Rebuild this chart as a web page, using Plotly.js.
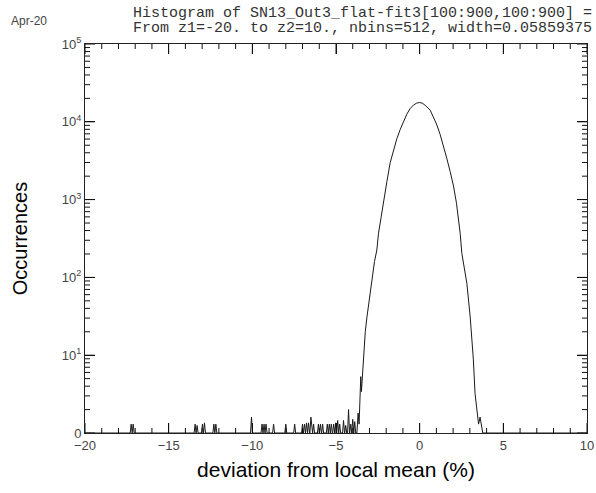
<!DOCTYPE html>
<html>
<head>
<meta charset="utf-8">
<script src="https://cdn.plot.ly/plotly-3.0.1.min.js"></script>
<style>html,body{margin:0;padding:0;background:#fff;}#chart{width:596px;height:493px;}</style>
</head>
<body>
<div id="chart"></div>
<script>
// Histogram of SN13_Out3_flat-fit3, 512 bins from -20 to 10
const binWidth = 0.05859375;
const emptyLevel = 1; // bottom of the log axis, labelled "0"

// main body of the distribution (deviation %, occurrences as drawn)
const coreX = [-3.75, -3.68, -3.62, -3.58, -3.52, -3.48, -3.42, -3.35, -3.25, -3.15, -3.0, -2.85, -2.7, -2.56, -2.46, -2.3, -2.16, -1.96, -1.76, -1.56, -1.36, -1.16, -0.97, -0.77, -0.57, -0.37, -0.2, -0.02, 0.15, 0.35, 0.63, 0.82, 1.03, 1.22, 1.42, 1.62, 1.82, 2.02, 2.2, 2.42, 2.52, 2.62, 2.82, 3.02, 3.21, 3.31, 3.4, 3.45, 3.52, 3.61, 3.7, 3.77];
const coreY = [1, 1.8, 1.3, 2.2, 5.3, 3.4, 6, 11.7, 20, 31, 56, 100, 160, 225, 370, 600, 950, 1700, 3000, 4400, 6100, 8000, 10000, 12500, 14800, 16400, 17300, 17700, 17400, 16200, 14100, 11700, 9100, 6900, 5000, 3400, 2300, 1500, 900, 370, 204, 150, 84, 31, 8.7, 3.2, 2.2, 1.8, 1.3, 1.6, 1.2, 1];

// isolated outlier bins in the left tail
const noiseX = [-17.24, -17.12, -13.42, -13.3, -12.98, -12.86, -12.3, -12.18, -10.05, -9.42, -9.3, -9.18, -8.73, -8.0, -7.47, -7.0, -6.88, -6.76, -6.64, -6.5, -6.34, -6.05, -5.93, -5.8, -5.52, -5.4, -5.28, -5.14, -5.02, -4.9, -4.78, -4.55, -4.42, -4.25, -4.12, -4.0, -3.88];
const noiseY = [1.3, 1.3, 1.3, 1.25, 1.3, 1.35, 1.3, 1.3, 1.6, 1.3, 1.3, 1.3, 1.3, 1.3, 1.3, 1.3, 1.3, 1.35, 1.35, 1.6, 1.3, 1.3, 1.3, 1.3, 1.3, 1.3, 1.3, 1.3, 1.35, 1.45, 1.3, 1.45, 1.25, 2.0, 1.3, 1.5, 1.4];

const xTickVals = [-20, -15, -10, -5, 0, 5, 10];
const yTickVals = [1, 10, 100, 1000, 10000, 100000];
const yTickText = ['0', '10<sup>1</sup>', '10<sup>2</sup>', '10<sup>3</sup>', '10<sup>4</sup>', '10<sup>5</sup>'];

const xRange = [-20, 10];
const yRange = [0, 5];

// assemble the histogram polyline
const lx = [xRange[0]], ly = [emptyLevel];
for (let i = 0; i < noiseX.length; i++) {
  lx.push(noiseX[i] - binWidth, noiseX[i], noiseX[i] + binWidth);
  ly.push(emptyLevel, noiseY[i], emptyLevel);
}
for (let i = 0; i < coreX.length; i++) { lx.push(coreX[i]); ly.push(coreY[i]); }
lx.push(xRange[1]); ly.push(emptyLevel);

// inside tick marks on all four sides, drawn as line segments
const margin = {l: 85, r: 9, t: 44, b: 60};
const pw = 596 - margin.l - margin.r, ph = 493 - margin.t - margin.b;
const xMinor = [];
for (let v = -19; v < 10; v++) if (v % 5 !== 0) xMinor.push(v);
const yMinor = [];
for (let d = 1; d < 100000; d *= 10) for (let k = 2; k <= 9; k++) yMinor.push(k * d);

const tx = [], ty = [];
function xTick(v, lenPx) {
  const dy = lenPx * (yRange[1] - yRange[0]) / ph;
  tx.push(v, v, null, v, v, null);
  ty.push(Math.pow(10, yRange[0]), Math.pow(10, yRange[0] + dy), null,
          Math.pow(10, yRange[1]), Math.pow(10, yRange[1] - dy), null);
}
function yTick(v, lenPx) {
  const dx = lenPx * (xRange[1] - xRange[0]) / pw;
  tx.push(xRange[0], xRange[0] + dx, null, xRange[1], xRange[1] - dx, null);
  ty.push(v, v, null, v, v, null);
}
xTickVals.forEach(function(v) { xTick(v, 10); });
xMinor.forEach(function(v) { xTick(v, 5); });
yTickVals.forEach(function(v) { yTick(v, 10); });
yMinor.forEach(function(v) { yTick(v, 5); });

const tickFont = {family: 'Liberation Sans, Arial, sans-serif', size: 13, color: '#444'};

const histTrace = {
  x: lx, y: ly, type: 'scatter', mode: 'lines',
  line: {color: '#1a1a1a', width: 1},
  hoverinfo: 'skip'
};
const tickTrace = {
  x: tx, y: ty, type: 'scatter', mode: 'lines',
  line: {color: '#111', width: 1},
  hoverinfo: 'skip'
};

const layout = {
  width: 596, height: 493,
  margin: margin,
  paper_bgcolor: '#fff', plot_bgcolor: '#fff',
  showlegend: false,
  xaxis: {
    range: xRange, tickmode: 'array', tickvals: xTickVals,
    ticks: 'inside', ticklen: 10, tickcolor: '#111',
    showline: true, linecolor: '#222', linewidth: 1, mirror: 'allticks',
    showgrid: false, zeroline: false,
    tickfont: tickFont,
    title: {text: 'deviation from local mean (%)', font: {family: 'Liberation Sans, Arial, sans-serif', size: 21, color: '#000'}, standoff: 10}
  },
  yaxis: {
    type: 'log', range: yRange, tickmode: 'array', tickvals: yTickVals, ticktext: yTickText,
    ticks: 'inside', ticklen: 10, tickcolor: '#111',
    showline: true, linecolor: '#222', linewidth: 1, mirror: 'allticks',
    showgrid: false, zeroline: false,
    tickfont: tickFont,
    title: {text: 'Occurrences', font: {family: 'Liberation Sans, Arial, sans-serif', size: 20, color: '#000'}, standoff: 28}
  }
};

// place annotations in pixel terms relative to the paper
function px2x(p) { return (p - margin.l) / pw; }
function py2y(p) { return (493 - margin.b - p) / ph; }
const monoFont = {family: 'Liberation Mono, Courier New, monospace', size: 15, color: '#333'};
layout.annotations = [
  {text: 'Histogram of SN13_Out3_flat-fit3[100:900,100:900] =', xref: 'paper', yref: 'paper',
   x: px2x(594), y: py2y(13.5), xanchor: 'right', yanchor: 'middle', showarrow: false, font: monoFont},
  {text: 'From z1=-20. to z2=10., nbins=512, width=0.05859375', xref: 'paper', yref: 'paper',
   x: px2x(594), y: py2y(28), xanchor: 'right', yanchor: 'middle', showarrow: false, font: monoFont},
  {text: 'Apr-20', xref: 'paper', yref: 'paper',
   x: px2x(9), y: py2y(21), xanchor: 'left', yanchor: 'middle', showarrow: false,
   font: {family: 'Liberation Sans, Arial, sans-serif', size: 12, color: '#444'}}
];

Plotly.newPlot('chart', [histTrace, tickTrace], layout, {displayModeBar: false});
</script>
</body>
</html>
